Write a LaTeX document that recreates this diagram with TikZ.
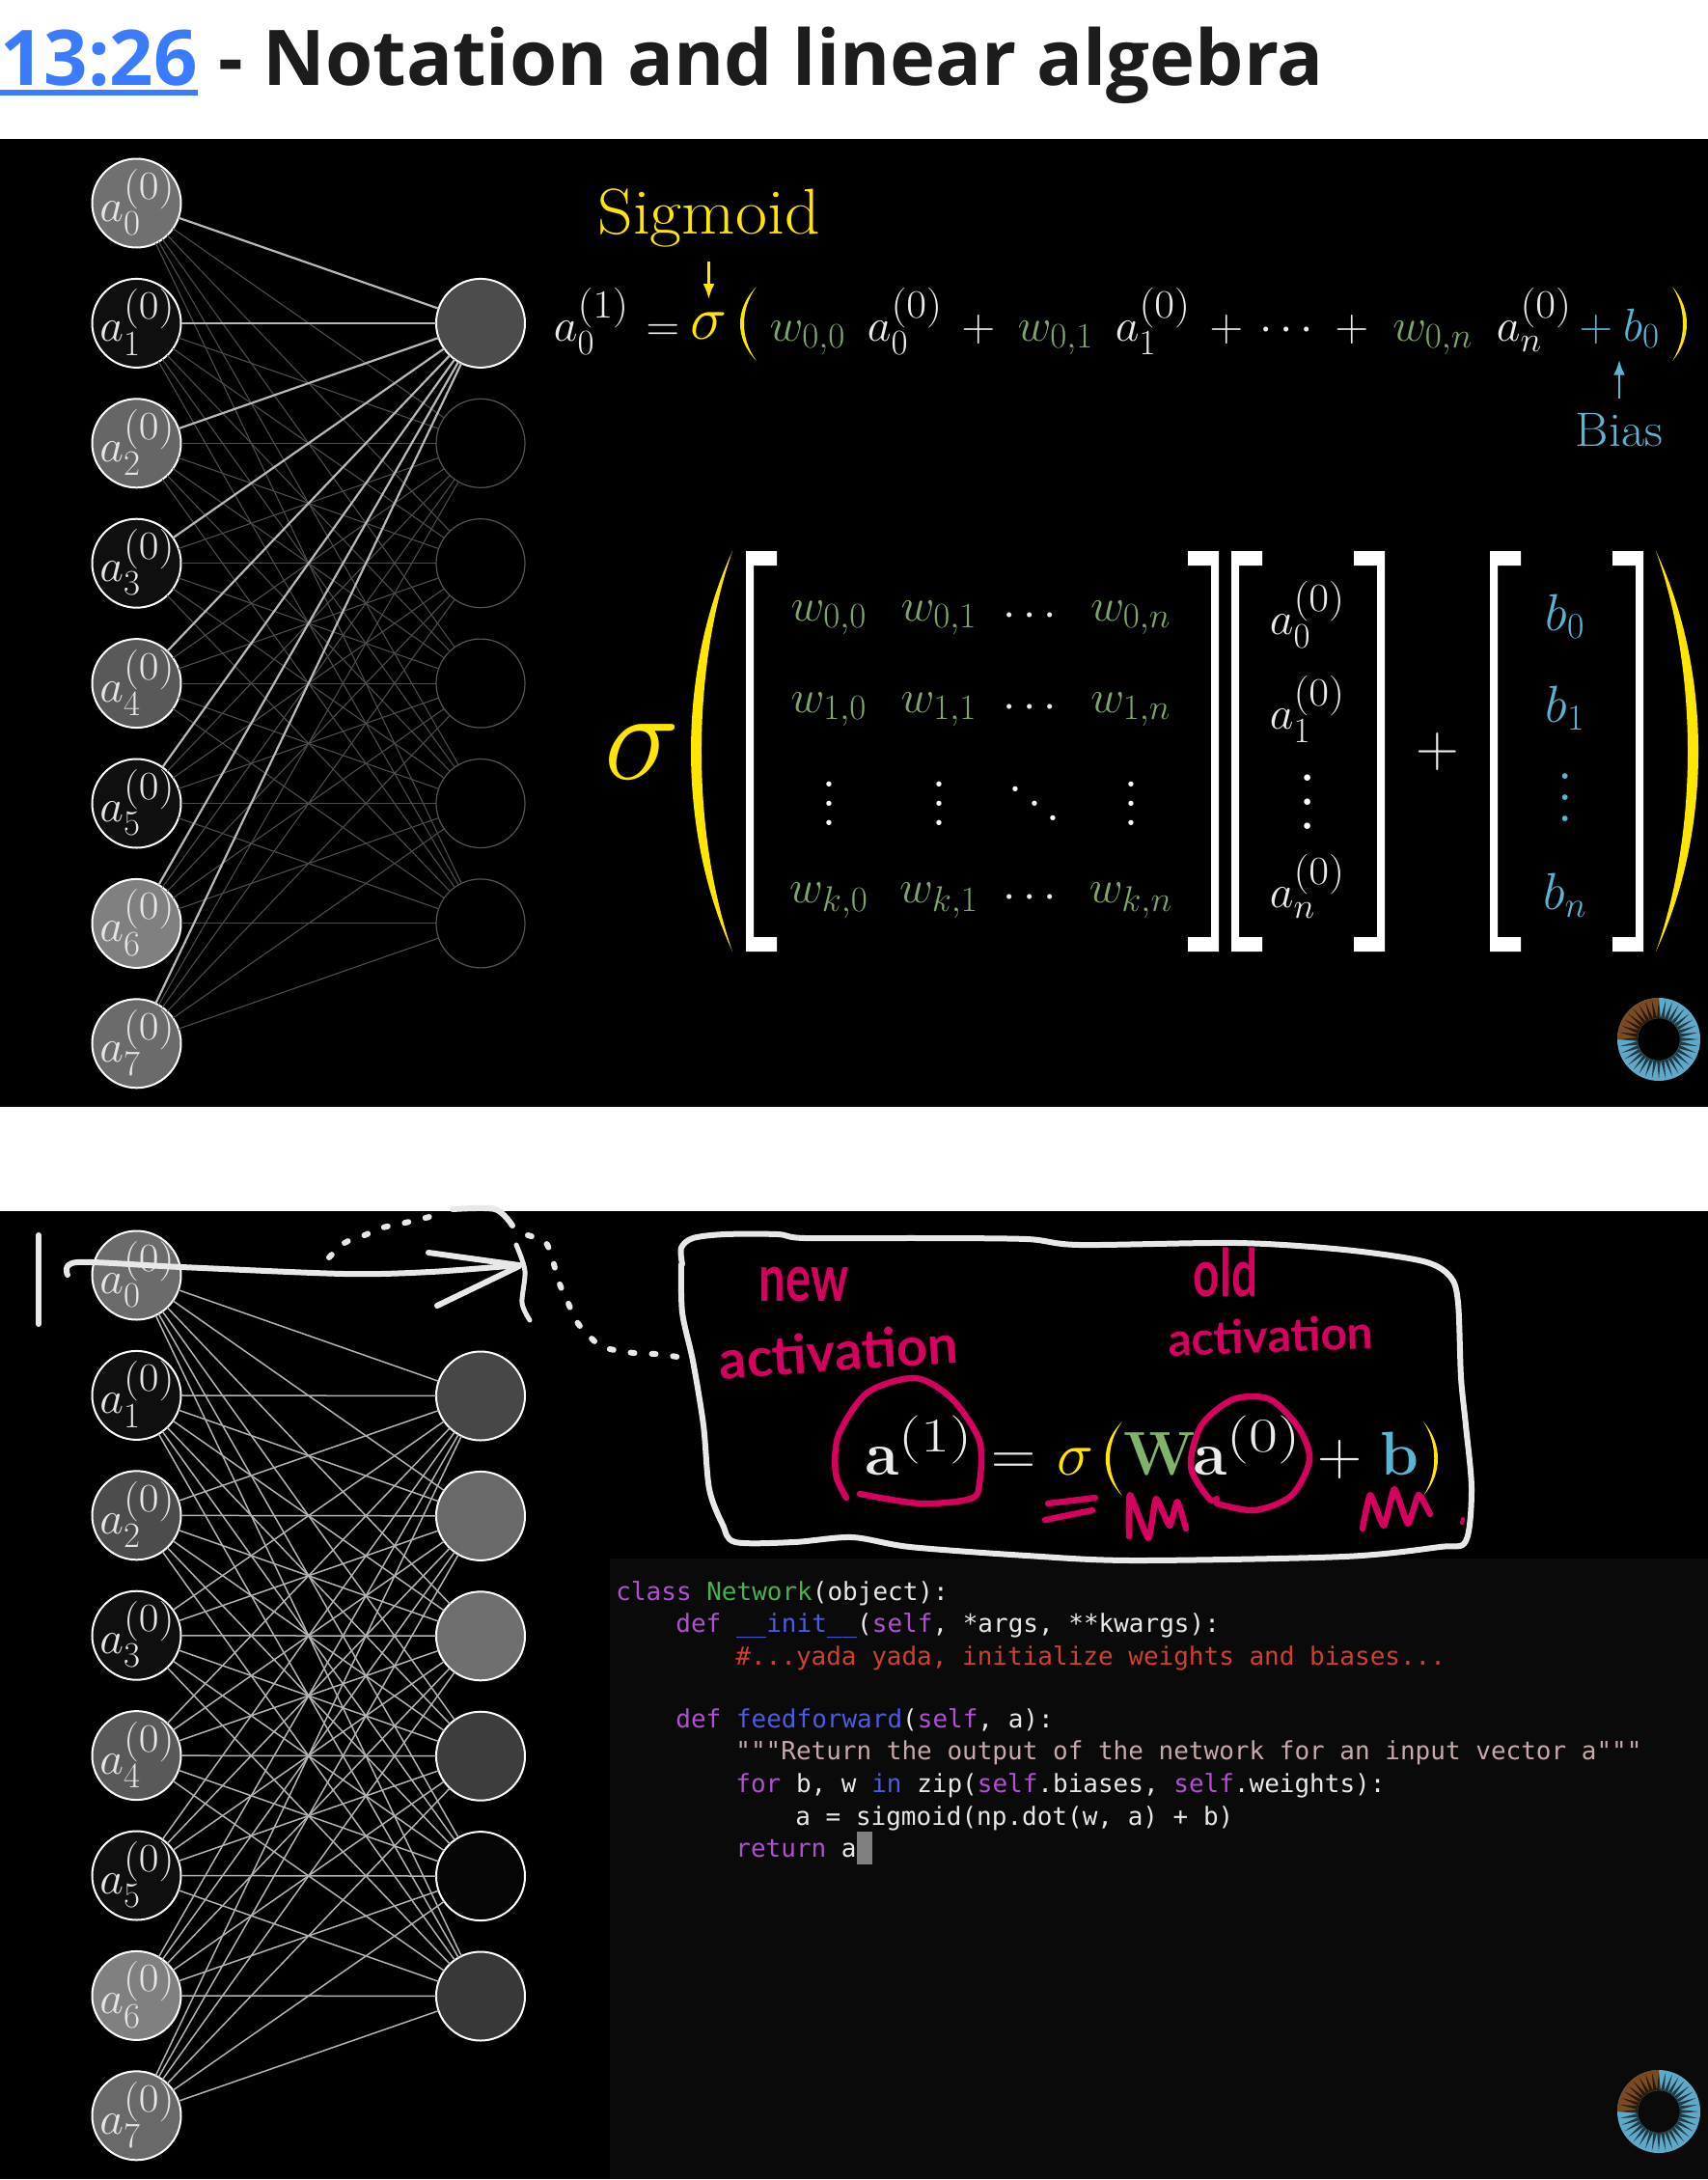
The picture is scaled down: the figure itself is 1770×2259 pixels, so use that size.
\documentclass[tikz,border=0pt]{standalone}
\usepackage{fix-cm}
\usepackage[no-math]{fontspec}
\usepackage{amsmath,amssymb}
\usetikzlibrary{arrows.meta,positioning}
\newfontfamily\titlefont{Open Sans}
\newfontfamily\codefont{DejaVu Sans Mono}
\newfontfamily\inkfont{Lato}
\DeclareMathSizes{24}{24}{18.5}{14}
\DeclareMathSizes{32}{32}{25}{18}
\newcommand{\fs}[1]{\fontsize{#1}{#1}\selectfont}
\newcommand{\supz}[1]{\raisebox{2.8pt}[0pt][0pt]{\scalebox{1.22}[1.12]{$\scriptstyle(#1)$}}}
\newcommand{\supb}[1]{\raisebox{0pt}[0pt][0pt]{\scalebox{1.3}[1]{$\scriptstyle(#1)$}}}
\newcommand{\neuronlabel}[1]{\makebox[0pt]{\hspace{1pt}\raisebox{-9.5pt}[0pt][0pt]{$a_{#1}^{\supz{0}}$}}}
\newcommand{\kw}[1]{\textcolor{codepurple}{#1}}
\newcommand{\fn}[1]{\textcolor{codeblue}{#1}}
\definecolor{linkblue}{HTML}{3B7BFF}
\definecolor{titleink}{HTML}{1C1C1C}
\definecolor{sigyellow}{HTML}{FFE600}
\definecolor{weightgreen}{HTML}{7FA56A}
\definecolor{boldgreen}{HTML}{83B26B}
\definecolor{biasblue}{HTML}{5AB4D2}
\definecolor{inkwhite}{HTML}{E8E8E8}
\definecolor{inkpink}{HTML}{D6005F}
\definecolor{codepurple}{HTML}{B050D0}
\definecolor{codeblue}{HTML}{4D5BE0}
\definecolor{codegreen}{HTML}{4CAF50}
\definecolor{codered}{HTML}{D04030}
\definecolor{codedoc}{HTML}{C8A8A8}
\definecolor{spinblue}{HTML}{5FA8C8}
\definecolor{spinbrown}{HTML}{7A4B23}
\begin{document}
\begin{tikzpicture}[
	x=0.5pt,y=-0.5pt,
	neuron/.style={
		circle,
		draw=white,
		line width=1pt,
		inner sep=0pt,
		outer sep=0pt,
		minimum size=46pt,
		text=white!90!black,
		font=\fs{24}
	},
	idleneuron/.style={
		neuron,
		draw=white!33!black,
		line width=0.6pt
	},
	dimedge/.style={draw=white!30!black,line width=0.55pt},
	strongedge/.style={draw=white!72!black,line width=1.1pt},
	liveedge/.style={draw=white!70!black,line width=0.75pt},
	formula/.style={
		anchor=base,
		inner sep=0pt,
		text=white!92!black,
		font=\fs{24}
	},
	dotsnode/.style={anchor=base,inner sep=0pt,text=white},
	callout/.style={
		-{Latex[length=8pt,width=6pt]},
		line width=1.3pt
	},
	sketch/.style={
		draw=inkwhite,
		line width=3pt,
		line cap=round,
		line join=round
	},
	sketchdots/.style={
		sketch,
		dash pattern=on 2pt off 9pt
	},
	pinkstroke/.style={
		sketch,
		draw=inkpink,
		line width=3.2pt
	},
	pinktext/.style={
		inner sep=0pt,
		text=inkpink
	},
	codeline/.style={
		anchor=base west,
		inner sep=0pt,
		text=inkwhite,
		font=\codefont\fs{13}
	}
	]
	\useasboundingbox (0,0) rectangle (1770,2259);
	\fill[black] (0,144) rectangle (1770,1147);
	\fill[black] (0,1255) rectangle (1770,2258);
	\fill[white!4!black] (632,1615) rectangle (1770,2258);

	\node[anchor=base west,inner sep=0pt,text=linkblue,font=\titlefont\bfseries\fs{39.8}] (stamp) at (0,88) {13:26};
	\node[anchor=base west,inner sep=0pt,text=titleink,font=\titlefont\bfseries\fs{39.8}] (heading) at (stamp.base east) {\ - Notation and linear algebra};
	\draw[linkblue,line width=3pt] ([yshift=-4pt]stamp.base west) -- ([yshift=-4pt]stamp.base east);

	\foreach \i/\shade in {0/44,1/6,2/40,3/6,4/35,5/6,6/50,7/42}
	\node[neuron,fill=white!\shade!black] (ta\i) at (141.5,{210.5+124.4*\i}) {\neuronlabel{\i}};
	\node[neuron,fill=white!30!black] (tr0) at (498,334.9) {};
	\foreach \j in {1,...,5}
	\node[idleneuron] (tr\j) at (498,{334.9+124.4*\j}) {};
	\foreach \i in {0,...,7}
	\foreach \j in {1,...,5}
	\draw[dimedge] (ta\i) -- (tr\j);
	\foreach \i in {0,...,7}
	\draw[strongedge] (ta\i) -- (tr0);

	\node[formula] (topa) at (613,353) {$a_0^{\supz{1}}$};
	\node[formula] (topeq) at (687,353) {$=$};
	\node[formula,text=sigyellow,font=\fs{32}] (topsigma) at (734.5,351) {$\sigma$};
	\node[formula,text=weightgreen] (topw0) at (837,353) {$w_{0,0}$};
	\node[formula] (topa0) at (938,353) {$a_0^{\supz{0}}$};
	\node[formula] (topplus0) at (1014,353) {$+$};
	\node[formula,text=weightgreen] (topw1) at (1094,353) {$w_{0,1}$};
	\node[formula] (topa1) at (1195,353) {$a_1^{\supz{0}}$};
	\node[formula] (topplus1) at (1271,353) {$+$};
	\node[formula] (topdots) at (1337,353) {$\cdots$};
	\node[formula] (topplus2) at (1401,353) {$+$};
	\node[formula,text=weightgreen] (topwn) at (1485,353) {$w_{0,n}$};
	\node[formula] (topan) at (1590,353) {$a_n^{\supz{0}}$};
	\node[formula,text=biasblue] (topplus3) at (1654,353) {$+$};
	\node[formula,text=biasblue] (topb0) at (1701,353) {$b_0$};

	\node[inner sep=0pt,text=sigyellow,font=\fs{33.5},xscale=1.07,above=33pt of topsigma] (sigmoid) {Sigmoid};
	\draw[callout,sigyellow,shorten <=7pt,shorten >=6.5pt] (sigmoid) -- (topsigma);
	\node[anchor=base,inner sep=0pt,text=biasblue,font=\fs{25},xscale=1.05] (bias) at (1678,462) {Bias};
	\draw[callout,biasblue,shorten <=7pt,shorten >=6pt] (bias.north) -- (bias.north |- topb0.south);

	\foreach \xt/\xo/\xi/\yt/\yb/\col in {
		784/761.3/766.7/297/374/sigyellow,
		1733/1753/1747.7/297/374/sigyellow,
		759/701.7/716.3/571/986/sigyellow,
		1716/1774.7/1760/571/986/sigyellow,
		1163/1140/1145.7/1473/1550/sigyellow,
		1475/1495/1490/1473/1550/sigyellow}
	\fill[\col] (\xt,\yt) .. controls (\xo,{\yt+0.3*(\yb-\yt)}) and (\xo,{\yb-0.3*(\yb-\yt)}) .. (\xt,\yb)
	.. controls (\xi,{\yb-0.3*(\yb-\yt)}) and (\xi,{\yt+0.3*(\yb-\yt)}) .. (\xt,\yt) -- cycle;

	\foreach \xa in {773,1276,1544}
	\fill[white] (\xa,571) -- ++(32,0) -- ++(0,15) -- ++(-24,0) -- (\xa+8,971) -- ++(24,0) -- ++(0,15) -- (\xa,986) -- cycle;
	\foreach \xb in {1263,1435,1703}
	\fill[white] (\xb,571) -- ++(-32,0) -- ++(0,15) -- ++(24,0) -- (\xb-8,971) -- ++(-24,0) -- ++(0,15) -- (\xb,986) -- cycle;

	\node[formula,text=sigyellow,font=\fs{66}] (bigsigma) at (666,807) {$\sigma$};
	\foreach \ypos/\rowname in {643/0,738/1,935/k}{
		\foreach \xpos/\colname in {859/0,973/1,1172/n}
		\node[formula,text=weightgreen] (w\rowname\colname) at (\xpos,\ypos) {$w_{\rowname,\colname}$};
		\node[formula] (wdots\rowname) at (1071,\ypos+6) {$\cdots$};
	}
	\foreach \xpos/\nm in {859/a,973/b,1172/c}
	\node[dotsnode,scale=2.5] (wvdots\nm) at (\xpos,855) {$\vdots$};
	\node[dotsnode,scale=2.5] (wddots) at (1072,855) {$\ddots$};
	\foreach \ypos/\sub in {657/0,755/1,940/n}
	\node[formula] (veca\sub) at (1355,\ypos) {$a_\sub^{\supz{0}}$};
	\node[dotsnode,scale=3.1] (vecadots) at (1355,859.5) {$\vdots$};
	\node[formula,anchor=center,font=\fs{31}] (bigplus) at (1490,779) {$+$};
	\foreach \ypos/\sub in {653/0,748/1,942/n}
	\node[formula,text=biasblue,font=\fs{27}] (vecb\sub) at (1622,\ypos) {$b_\sub$};
	\node[dotsnode,text=biasblue,scale=2.75] (vecbdots) at (1622,851) {$\vdots$};

	\foreach \i/\shade in {0/42,1/6,2/30,3/6,4/35,5/6,6/50,7/41}
	\node[neuron,fill=white!\shade!black] (la\i) at (141.5,{1321.5+124.4*\i}) {\neuronlabel{\i}};
	\foreach \j/\shade in {0/28,1/41,2/43,3/24,4/2,5/22}
	\node[neuron,fill=white!\shade!black] (lr\j) at (498,{1446.5+124.4*\j}) {};
	\foreach \i in {0,...,7}
	\foreach \j in {0,...,5}
	\draw[liveedge] (la\i) -- (lr\j);

	\draw[sketch] (40,1280) -- (40,1372);
	\draw[sketch] plot[smooth] coordinates {(70,1321) (80,1308) (188,1313) (357,1320) (446,1318) (538,1311)};
	\draw[sketch] (444,1298) -- (538,1311);
	\draw[sketch] (453,1353) -- (538,1312);
	\draw[sketch,line width=2.5pt] plot[smooth] coordinates {(535,1290) (544,1317) (541,1350) (549,1368)};
	\draw[sketchdots] plot[smooth] coordinates {(341,1303) (357,1288) (373,1282) (397,1272) (420,1267) (449,1260)};
	\draw[sketch] plot[smooth] coordinates {(469,1253) (513,1253) (531,1270)};
	\draw[sketchdots] plot[smooth] coordinates {(547,1280) (565,1287) (572,1303) (579,1328) (590,1353) (598,1370) (609,1383) (623,1395) (642,1400) (667,1403) (679,1403) (702,1406) (710,1408)};
	\draw[sketch] plot[smooth] coordinates {(707,1310) (706,1293) (718,1283) (751,1279) (806,1279) (834,1283) (954,1283) (1064,1284) (1119,1290) (1283,1288) (1393,1295) (1475,1307) (1503,1323) (1511,1350) (1514,1427) (1519,1477) (1525,1543) (1519,1597) (1492,1603) (1393,1613) (1174,1617) (1064,1612) (943,1603) (883,1593) (823,1598) (762,1598) (749,1580) (735,1543) (729,1477) (718,1410) (707,1360) (706,1310)};

	\node[formula,font=\fs{32}] (newa) at (952.5,1528) {$\mathbf{a}^{\supb{1}}$};
	\node[formula,font=\fs{32}] (neweq) at (1051,1528) {$=$};
	\node[formula,text=sigyellow,font=\fs{32}] (newsigma) at (1114.5,1528) {$\sigma$};
	\node[formula,text=boldgreen,font=\fs{32}] (neww) at (1202,1528) {$\mathbf{W}$};
	\node[formula,font=\fs{32}] (olda) at (1292.5,1528) {$\mathbf{a}^{\supb{0}}$};
	\node[formula,font=\fs{32}] (oldplus) at (1389,1528) {$+$};
	\node[formula,text=biasblue,font=\fs{32}] (newb) at (1450,1528) {$\mathbf{b}$};

	\node[pinktext,font=\inkfont\bfseries\fs{34},xscale=0.72] (inknew) at (833,1331) {new};
	\node[pinktext,font=\inkfont\bfseries\fs{28},rotate=4] (inkact) at (869,1400) {activation};
	\node[pinktext,font=\inkfont\bfseries\fs{34},xscale=0.7] (inkold) at (1270,1318) {old};
	\node[pinktext,font=\inkfont\bfseries\fs{24},rotate=2] (inkacttwo) at (1317,1384) {activation};

	\draw[pinkstroke] plot[smooth] coordinates {(877,1552) (866,1527) (869,1487) (899,1443) (949,1428) (987,1450) (1015,1493) (1015,1537) (1006,1553) (954,1558) (891,1548)};
	\draw[pinkstroke] plot[smooth] coordinates {(1261,1553) (1253,1553) (1234,1520) (1245,1477) (1278,1450) (1316,1450) (1346,1480) (1357,1513) (1338,1550) (1300,1565) (1261,1558)};
	\draw[pinkstroke] (1086,1558) -- (1135,1552);
	\draw[pinkstroke] (1083,1575) -- (1132,1565);
	\draw[pinkstroke] plot[smooth,tension=0.3] coordinates {(1170,1592) (1171,1549) (1190,1594) (1198,1553) (1212,1581) (1220,1556) (1229,1584)};
	\draw[pinkstroke] plot[smooth,tension=0.3] coordinates {(1412,1584) (1420,1549) (1434,1581) (1445,1543) (1459,1579) (1470,1549) (1482,1569)};
	\draw[pinkstroke,line width=2pt] (1516,1574) -- (1515,1578);

	\node[codeline] (code1) at (638,1658) {\kw{class} \textcolor{codegreen}{Network}(object):};
	\node[codeline] (code2) at (700,1691) {\kw{def} \fn{\_\_init\_\_}(\kw{self}, *args, **kwargs):};
	\node[codeline,text=codered] (code3) at (762,1725) {\#...yada yada, initialize weights and biases...};
	\node[codeline] (code4) at (700,1790) {\kw{def} \fn{feedforward}(\kw{self}, a):};
	\node[codeline,text=codedoc] (code5) at (762,1823) {"""Return the output of the network for an input vector a"""};
	\node[codeline] (code6) at (762,1857) {\kw{for} b, w \fn{in} zip(\kw{self}.biases, \kw{self}.weights):};
	\node[codeline] (code7) at (824,1891) {a = sigmoid(np.dot(w, a) + b)};
	\node[codeline] (code8) at (762,1924) {\kw{return} a};
	\fill[white!50!black] (888,1898) rectangle (904,1932);

	\foreach \cx/\cy in {1719/1077,1719/2188}{
		\begin{scope}[shift={(\cx,\cy)}]
			\fill[spinblue,even odd rule] (0,0) circle (43) (0,0) circle (22);
			\fill[spinbrown] (180:22) -- (180:43) arc[start angle=180,end angle=270,radius=43] -- (270:22) arc[start angle=270,end angle=180,radius=22] -- cycle;
			\foreach \ang in {0,10,...,350}
			\fill[black,opacity=0.65] (\ang-5:22) -- (\ang:41) -- (\ang+5:22) -- cycle;
		\end{scope}
	}
\end{tikzpicture}
\end{document}
